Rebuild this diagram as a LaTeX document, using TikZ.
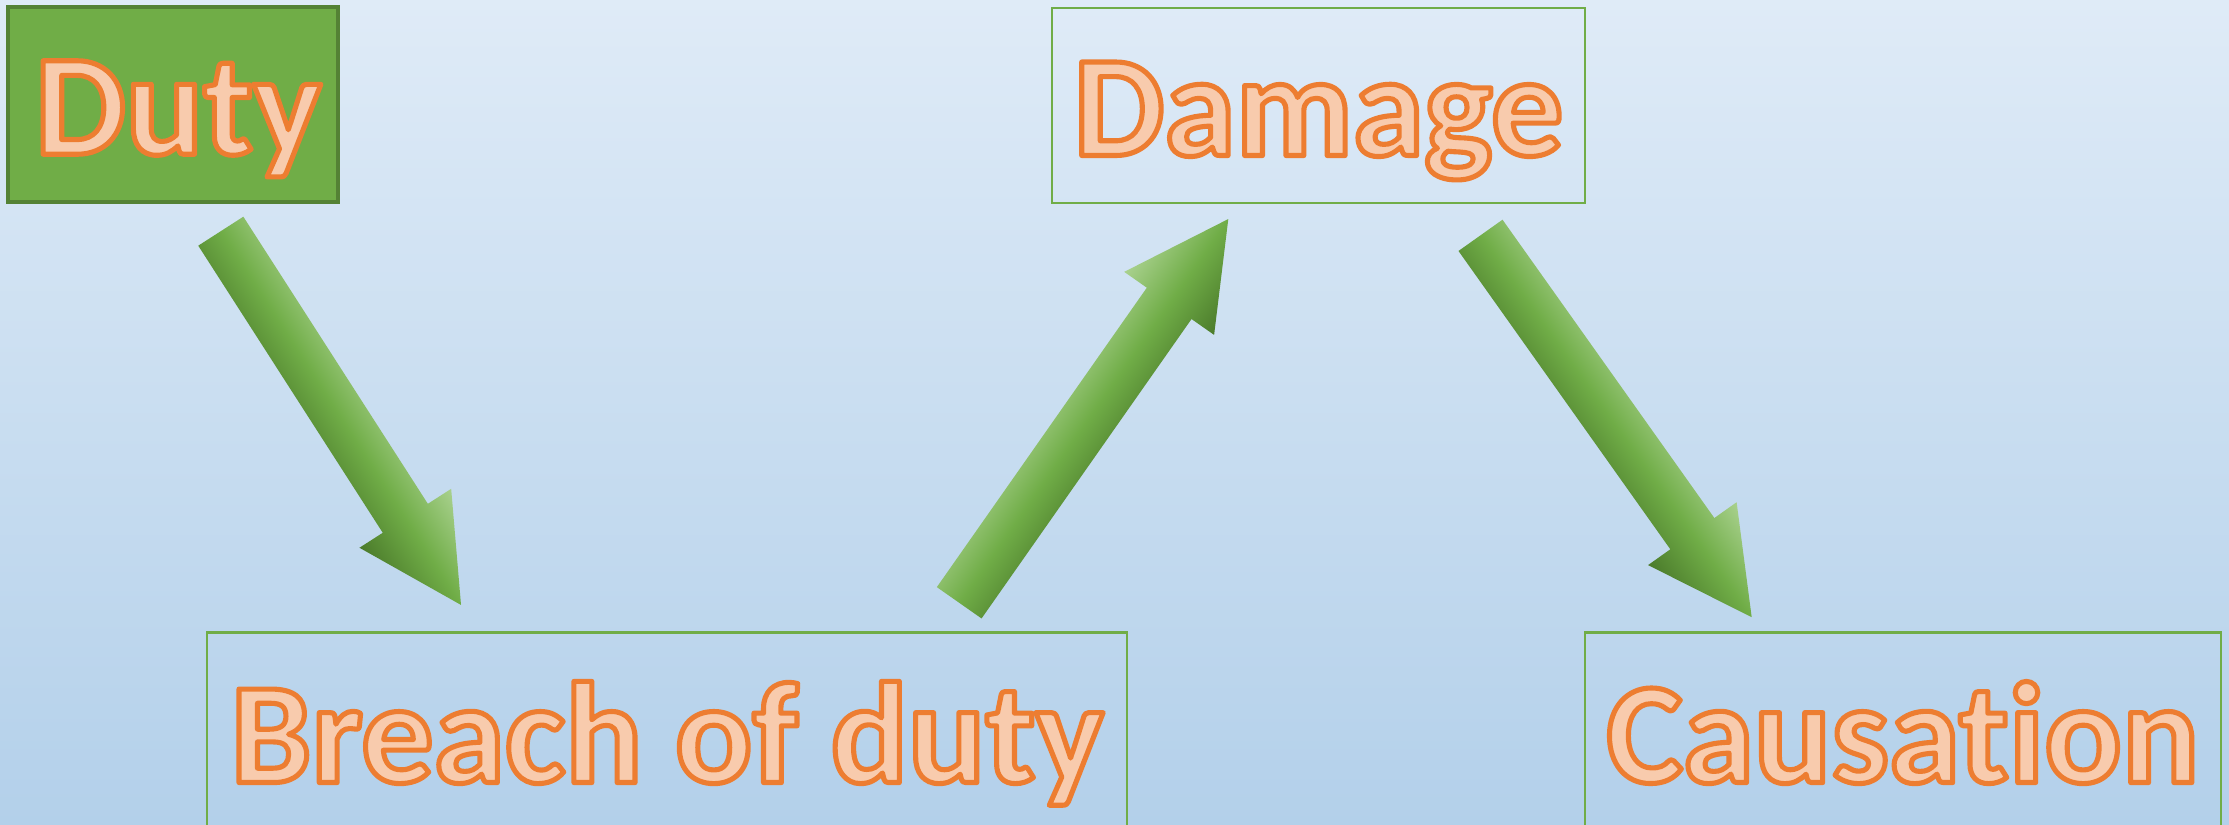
\documentclass[tikz,border=0pt]{standalone}
\usepackage{fontspec}
\setmainfont{Carlito}[Ligatures={NoCommon}]
\definecolor{bgtop}{HTML}{DFEBF7}
\definecolor{bgbot}{HTML}{B3D0EA}
\definecolor{accgreen}{HTML}{70AD47}
\definecolor{darkgreen}{HTML}{548235}
\definecolor{arrlight}{HTML}{A9D18E}
\definecolor{arrdark}{HTML}{4B7B2B}
\definecolor{peach}{HTML}{F8CBAD}
\newcommand\outlined[1]{\special{pdf:literal direct 2 Tr 1.45 w 1 j 0.929 0.490 0.192 RG}#1\special{pdf:literal direct 0 Tr}}
% #1 x, #2 y (tail midpoint), #3 angle, #4 half shaft width, #5 length, #6 head length, #7 half head width
\newcommand\blockarrow[7]{%
  \begin{scope}[transform canvas={shift={(#1,#2)},rotate=#3}]
    \shade[top color=arrlight, bottom color=arrdark, middle color=accgreen]
      (0,#4) -- ({#5-#6},#4) -- ({#5-#6},#7) -- (#5,0) -- ({#5-#6},-#7)
      -- ({#5-#6},-#4) -- (0,-#4) -- cycle;
  \end{scope}}
\tikzset{
  box/.style={draw=accgreen, line width=0.6pt, inner sep=0pt, text=peach,
    font=\fontsize{41}{49}\selectfont\bfseries, text height=28.3pt, text depth=0pt},
}
\begin{document}
\begin{tikzpicture}[x=0.01cm, y=-0.01cm]
\useasboundingbox (0,0) rectangle (2229,825);
\clip (0,0) rectangle (2229,825);
\shade[top color=bgtop, bottom color=bgbot] (0,0) rectangle (2229,825);

% named arrow anchors
\coordinate (a1tail) at (220.8,231.2);
\coordinate (a2tail) at (959.2,602.8);
\coordinate (a3tail) at (1480.5,235.35);

\blockarrow{220.8}{231.2}{-57.27}{26.8}{444.3}{103}{54.5}
\blockarrow{959.2}{602.8}{54.96}{27.3}{468.7}{103}{54.9}
\blockarrow{1480.5}{235.35}{-54.62}{27}{468.4}{102.5}{54.3}

\node[box, fill=accgreen, draw=darkgreen, line width=1pt,
      minimum width=3.3cm, minimum height=1.95cm] (duty) at (173,104.5) {\hspace*{3pt}\outlined{Duty}};
\node[box, minimum width=5.33cm, minimum height=1.945cm] (damage) at (1318.5,105.75) {\outlined{Damage}};
\node[box, minimum width=9.195cm, minimum height=2.004cm] (breach) at (667.25,732.8) {\outlined{Breach of duty}};
\node[box, minimum width=6.355cm, minimum height=2.004cm] (causation) at (1902.75,732.8) {\outlined{Causation}};
\end{tikzpicture}
\end{document}
